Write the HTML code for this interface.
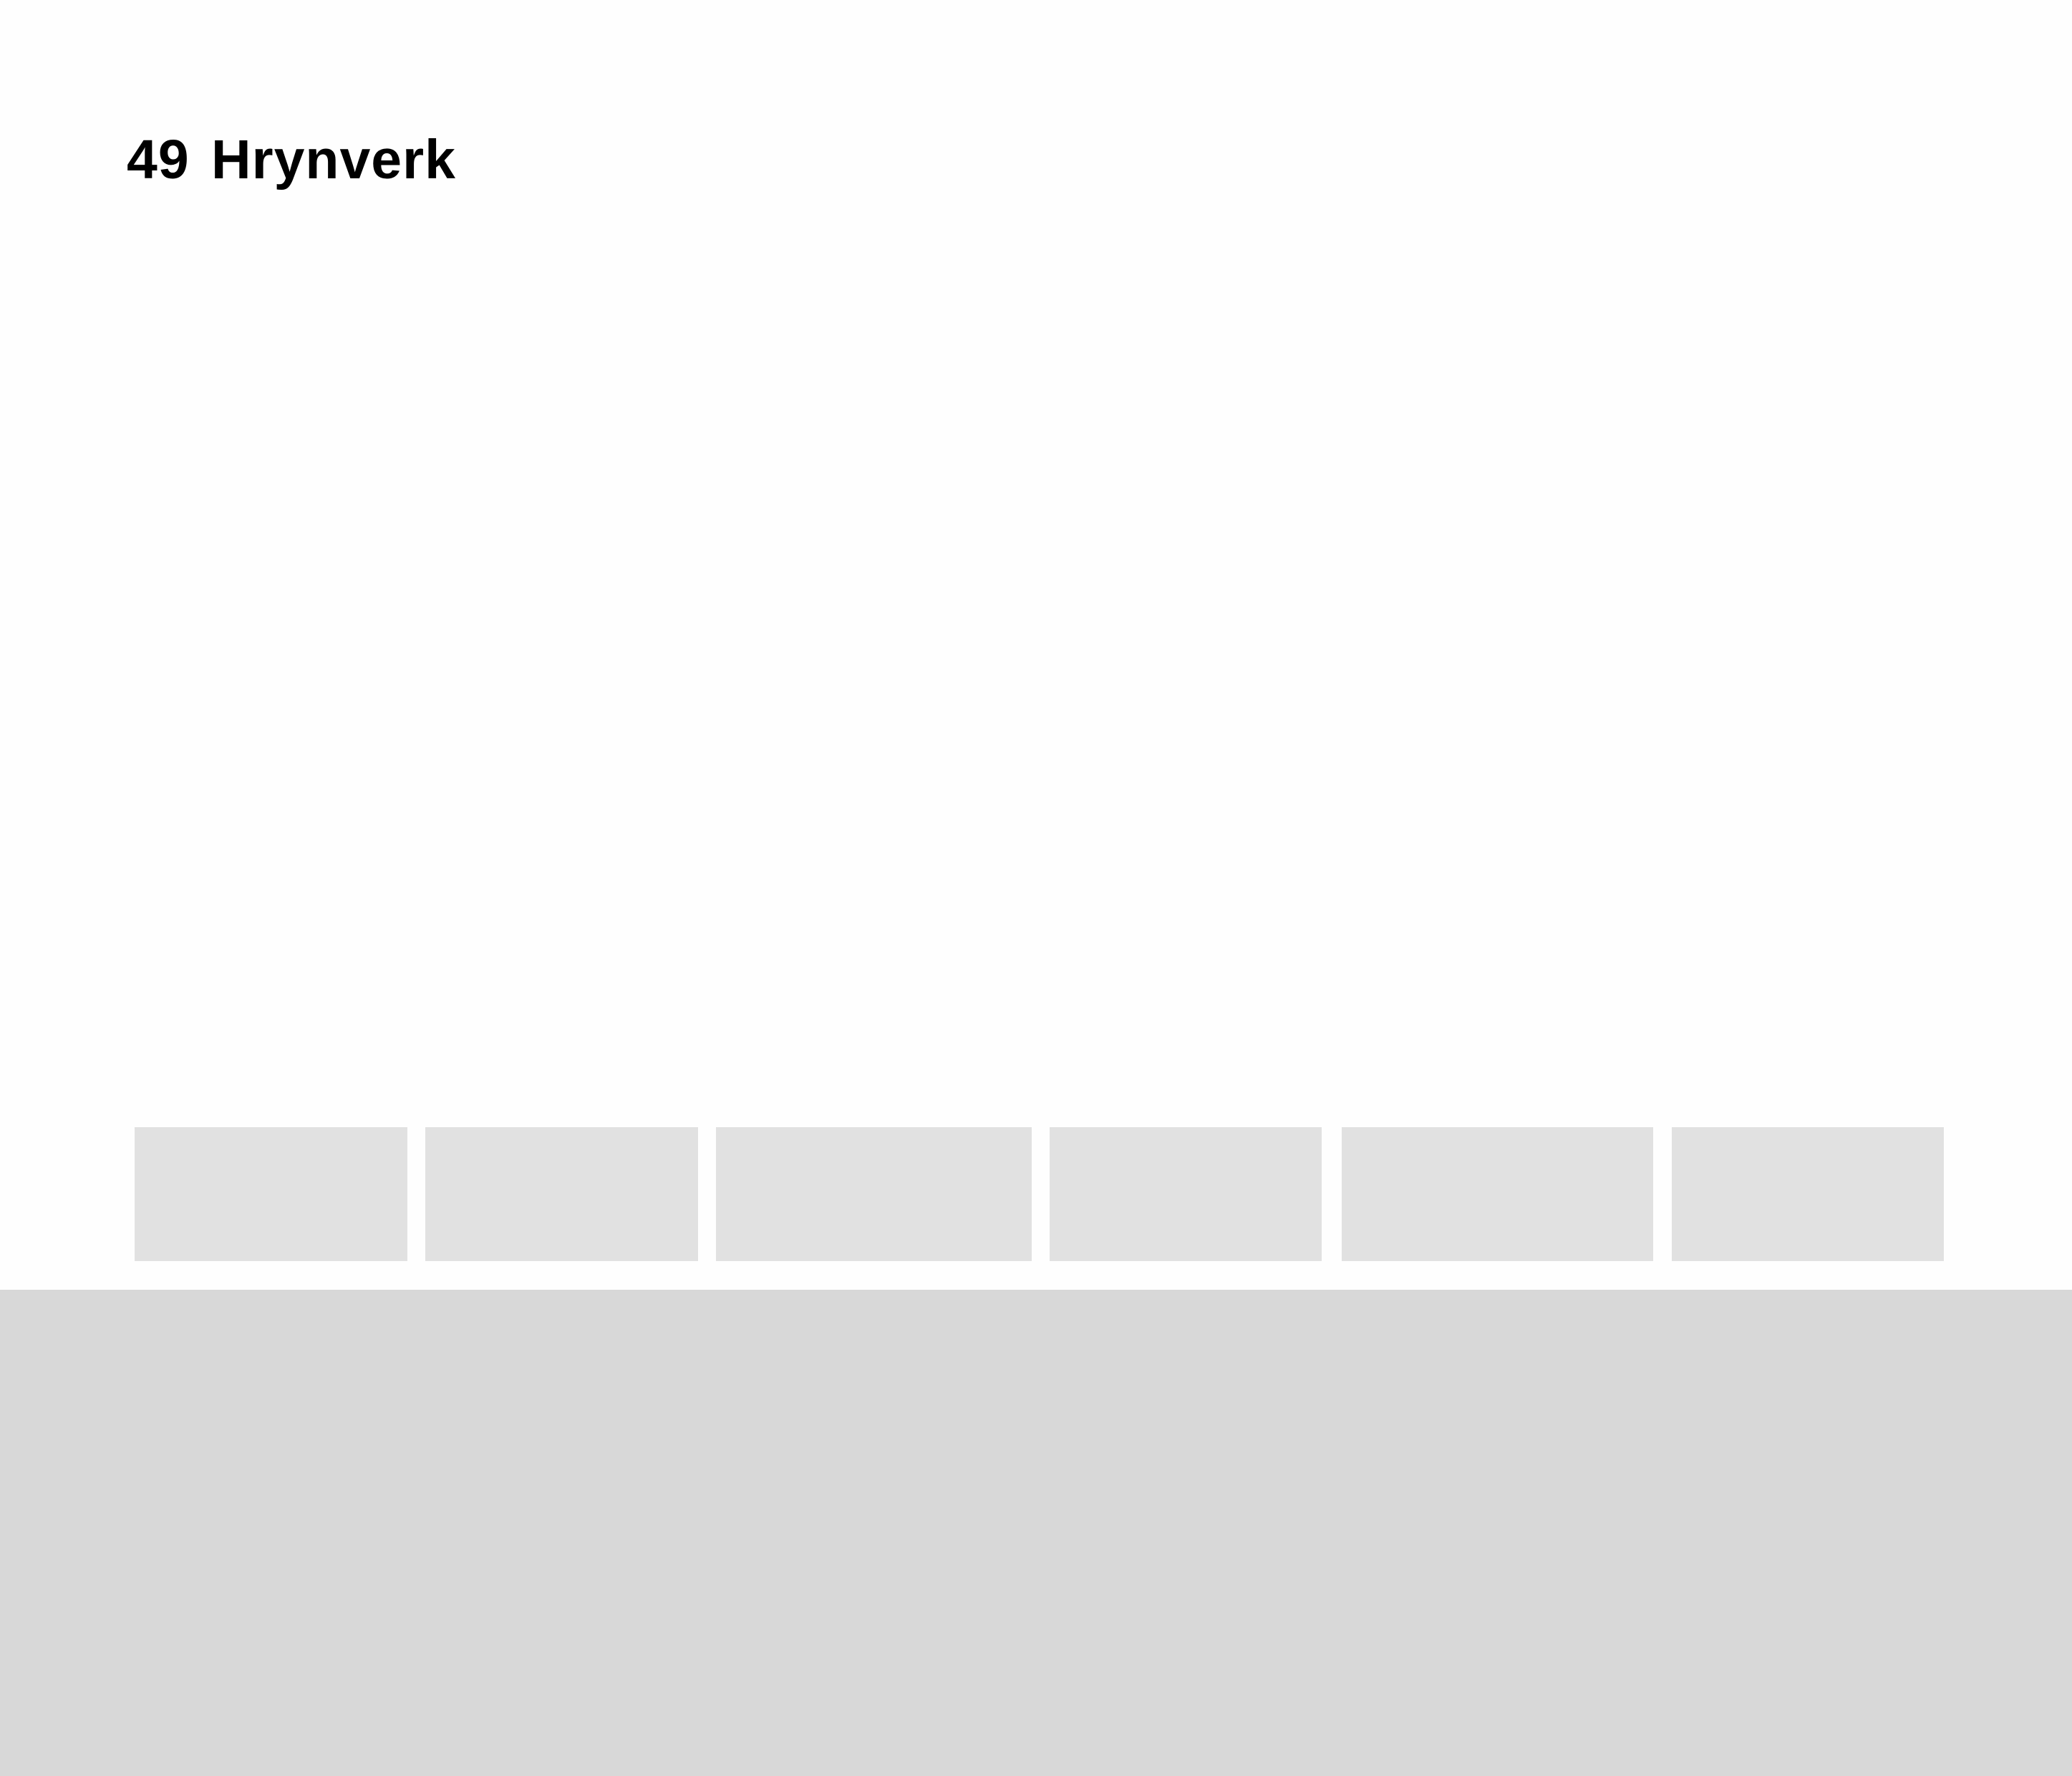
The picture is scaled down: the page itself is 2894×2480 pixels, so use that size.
<!DOCTYPE html>
<html><head><meta charset="utf-8"><style>
html,body{margin:0;padding:0;background:#fefefe;}
body{width:2894px;height:2480px;position:relative;overflow:hidden;font-family:"Liberation Sans",sans-serif;}
#title{position:absolute;left:177px;top:185px;font-size:77px;line-height:77px;font-weight:bold;color:#000;white-space:nowrap;word-spacing:8px;letter-spacing:1px;}
.box{position:absolute;top:1574px;height:187px;background:#e1e1e1;}
#footer{position:absolute;left:0;top:1801px;width:2894px;height:679px;background:#d8d8d8;}
</style></head><body>
<div id="title">49 Hrynverk</div>
<div class="box" style="left:188px;width:381px"></div>
<div class="box" style="left:594px;width:381px"></div>
<div class="box" style="left:1000px;width:441px"></div>
<div class="box" style="left:1466px;width:380px"></div>
<div class="box" style="left:1874px;width:435px"></div>
<div class="box" style="left:2335px;width:380px"></div>
<div id="footer"></div>
</body></html>
